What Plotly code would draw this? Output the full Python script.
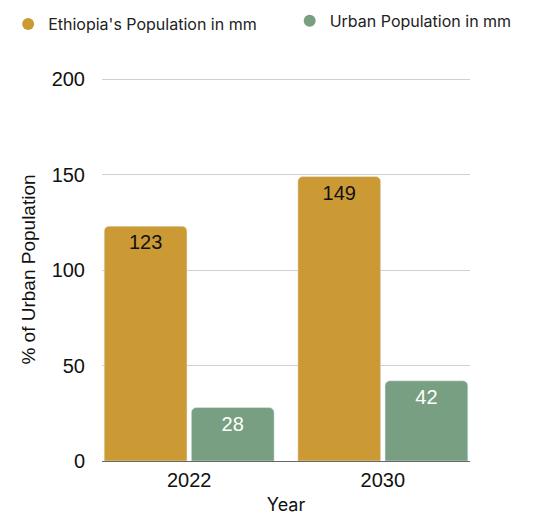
import plotly.graph_objects as go

years = ["2022", "2030"]
total_pop = [123, 149]
urban_pop = [28, 42]
series_names = ["Ethiopia's Population in mm", "Urban Population in mm"]
colors = ["#CC9A34", "#789F81"]
legend_ids = ["legend", "legend2"]

fig = go.Figure()
fig.add_trace(go.Bar(x=years, y=total_pop, name=series_names[0], marker_color=colors[0],
                     text=total_pop, textposition="inside", insidetextanchor="end",
                     textfont=dict(color="#111111", size=20, family="Liberation Sans"),
                     showlegend=False, cliponaxis=False))
fig.add_trace(go.Bar(x=years, y=urban_pop, name=series_names[1], marker_color=colors[1],
                     text=urban_pop, textposition="inside", insidetextanchor="end",
                     textfont=dict(color="#ffffff", size=20, family="Liberation Sans"),
                     showlegend=False, cliponaxis=False))
for n, c, lg in zip(series_names, colors, legend_ids):
    fig.add_trace(go.Scatter(x=[None], y=[None], mode="markers", name=n, legend=lg,
                             marker=dict(symbol="circle", size=20, color=c)))

leg_font = dict(family="Inter", size=16, color="#222222")
fig.update_layout(
    width=553, height=515,
    margin=dict(l=102, r=83, t=78, b=54, autoexpand=False),
    paper_bgcolor="white", plot_bgcolor="white",
    barmode="group", bargap=0.1, bargroupgap=0.05, barcornerradius=5,
    uniformtext=dict(mode="show", minsize=10),
    legend=dict(x=-0.255, y=1.141, xanchor="left", yanchor="middle",
                font=leg_font, itemsizing="constant"),
    legend2=dict(x=0.51, y=1.149, xanchor="left", yanchor="middle",
                 font=leg_font, itemsizing="constant"),
    xaxis=dict(type="category", range=[-0.45, 1.45], showgrid=False,
               tickfont=dict(family="Liberation Sans", size=20, color="#111111"),
               ticklabelstandoff=5,
               title=dict(text="Year", font=dict(family="Inter", size=18, color="#111111"), standoff=12),
               ticks="", showline=False),
    yaxis=dict(range=[0, 200.6], dtick=50, showgrid=True, gridcolor="#d0d0d0", gridwidth=1,
               zeroline=True, zerolinecolor="#666666", zerolinewidth=1,
               tickfont=dict(family="Liberation Sans", size=20, color="#111111"),
               ticklabelstandoff=16,
               title=dict(text="% of Urban Population", font=dict(family="Liberation Sans", size=19, color="#111111"), standoff=10)),
)

fig.write_html("out.html")
